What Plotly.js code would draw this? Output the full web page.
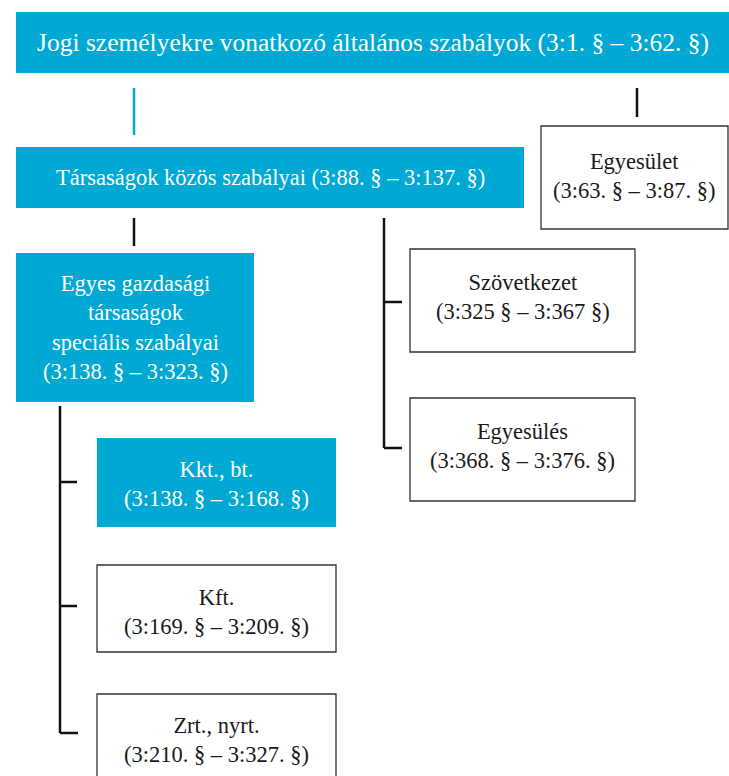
<!DOCTYPE html>
<html><head><meta charset="utf-8">
<script src="https://cdn.plot.ly/plotly-3.0.1.min.js"></script>
<style>html,body{margin:0;padding:0;background:#fff}#c{width:729px;height:776px}</style>
</head><body><div id="c"></div>
<script>
// Node labels (text content)
const nodeTitles = [
  "Jogi személyekre vonatkozó általános szabályok (3:1. § – 3:62. §)",
  "Társaságok közös szabályai (3:88. § – 3:137. §)",
  "Egyesület<br>(3:63. § – 3:87. §)",
  "Egyes gazdasági<br>társaságok<br>speciális szabályai<br>(3:138. § – 3:323. §)",
  "Szövetkezet<br>(3:325 § – 3:367 §)",
  "Egyesülés<br>(3:368. § – 3:376. §)",
  "Kkt., bt.<br>(3:138. § – 3:168. §)",
  "Kft.<br>(3:169. § – 3:209. §)",
  "Zrt., nyrt.<br>(3:210. § – 3:327. §)"
];
const nodeFilled = [true, true, false, true, false, false, true, false, false];

// Layout geometry (pixels): [x0, y0, x1, y1]
const boxes = [
  [16, 12, 729, 73],
  [16, 147, 524, 208],
  [541, 126, 728, 229],
  [16, 253, 254, 402],
  [410, 249, 635, 352],
  [410, 398, 635, 501],
  [97, 438, 336, 527],
  [97, 565, 336, 652],
  [97, 694, 336, 790]
];
const textOffsets = [0, 0, -2, 0, -4, -4, 1, 3, 5];
const fontSizes = [25.5, 22.5, 22.5, 22.5, 22.5, 22.5, 22.5, 22.5, 22.5];
// connector segments [x0,y0,x1,y1,colorIsCyan]
const connectors = [
  [134, 88, 134, 135, 1],
  [637, 88, 637, 117, 0],
  [134, 218, 134, 246, 0],
  [384, 218, 384, 448, 0],
  [384, 302, 402, 302, 0],
  [384, 448, 402, 448, 0],
  [60, 406, 60, 733, 0],
  [60, 482, 77, 482, 0],
  [60, 606, 77, 606, 0],
  [60, 733, 78, 733, 0]
];

const FONT = "'Liberation Serif', 'Times New Roman', serif";
const CYAN = "#00a9d3";
const shapes = [];
const annotations = [];
boxes.forEach((b, i) => {
  shapes.push({type: "rect", xref: "x", yref: "y", x0: b[0], y0: b[1], x1: b[2], y1: b[3],
    fillcolor: nodeFilled[i] ? CYAN : "#ffffff",
    line: {color: nodeFilled[i] ? CYAN : "#333333", width: nodeFilled[i] ? 0 : 1.3}, layer: "below"});
  annotations.push({x: (b[0] + Math.min(b[2], 729)) / 2, y: (b[1] + Math.min(b[3], 776)) / 2 + textOffsets[i],
    xref: "x", yref: "y", text: nodeTitles[i], showarrow: false,
    font: {family: FONT, size: fontSizes[i], color: nodeFilled[i] ? "#ffffff" : "#1a1a1a"},
    align: "center", yanchor: "middle", xanchor: "center"});
});
connectors.forEach(c => {
  shapes.push({type: "line", xref: "x", yref: "y", x0: c[0], y0: c[1], x1: c[2], y1: c[3],
    line: {color: c[4] ? CYAN : "#111111", width: 2.5}});
});

Plotly.newPlot("c", [], {
  width: 729, height: 776,
  font: {family: FONT},
  margin: {l: 0, r: 0, t: 0, b: 0},
  paper_bgcolor: "#ffffff", plot_bgcolor: "#ffffff",
  xaxis: {range: [0, 729], visible: false, fixedrange: true},
  yaxis: {range: [776, 0], visible: false, fixedrange: true},
  shapes: shapes, annotations: annotations, showlegend: false
}, {displayModeBar: false, staticPlot: true});
</script></body></html>
